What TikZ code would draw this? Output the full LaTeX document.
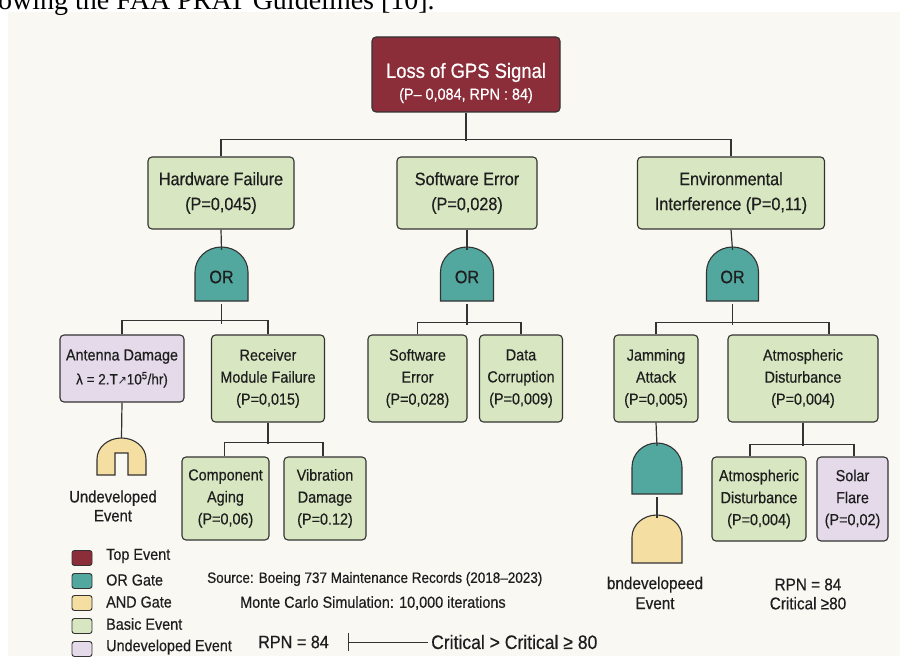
\documentclass[tikz,border=0pt]{standalone}
\usepackage{fontspec}
\setmainfont{Liberation Sans}[FakeStretch=0.9, FakeBold=0.5]
\newfontfamily\serifhead{Liberation Serif}
\newfontfamily\dvsans{DejaVu Sans}[FakeStretch=0.9]
\definecolor{bgC}{HTML}{FAF8F3}
\definecolor{lineC}{HTML}{333333}
\definecolor{txtC}{HTML}{1E1E1E}
\definecolor{topC}{HTML}{8B2E3A}
\definecolor{tealC}{HTML}{52A89F}
\definecolor{yelC}{HTML}{F4DEA2}
\definecolor{basicC}{HTML}{D8E7C1}
\definecolor{undevC}{HTML}{E4DAEA}
\newcommand{\fs}[2]{\fontsize{#1}{#2}\selectfont}
\newcommand{\dome}[8]{% name, cx, cy, w, h, ry, fill, text
  \pgfmathsetmacro\dmL{#2-#4/2}\pgfmathsetmacro\dmR{#2+#4/2}%
  \pgfmathsetmacro\dmB{#3+#5/2}\pgfmathsetmacro\dmS{#3-#5/2+#6}%
  \pgfmathsetmacro\dmX{#4/2}%
  \draw[gateline, fill=#7] (\dmL,\dmB) -- (\dmL,\dmS) arc[start angle=180, end angle=0, x radius=\dmX pt, y radius=#6pt] -- (\dmR,\dmB) -- cycle;
  \node[minimum width=#4pt, minimum height=#5pt, inner sep=0pt, text=txtC, font=\fs{18}{20}, yshift=-3pt] (#1) at (#2,#3) {#8};
}
\tikzset{
  box/.style={draw=lineC, line width=1.1pt, rounded corners=4pt, align=center, inner sep=0pt, text=txtC},
  basic/.style={box, fill=basicC},
  undev/.style={box, fill=undevC},
  conn/.style={draw=lineC, line width=1.2pt},
  gateline/.style={draw=lineC, line width=1.1pt},
  lbl/.style={align=center, inner sep=0pt, text=txtC},
  legsq/.style={draw=lineC, line width=0.9pt, rounded corners=2.5pt, minimum width=20pt, minimum height=15pt, inner sep=0pt},
  legtx/.style={anchor=west, inner sep=0pt, text=txtC, font=\fs{16}{18}},
}
\begin{document}
\begin{tikzpicture}[x=1pt, y=-1pt]
\useasboundingbox (0,0) rectangle (908,663);
\clip (0,0) rectangle (908,663);
\fill[white] (0,0) rectangle (908,663);
\fill[bgC] (8,12) rectangle (900,656);
\node[anchor=base west, inner sep=0pt, font=\serifhead\fontsize{28}{30}\selectfont] (head) at (-2,10) {owing the FAA PRAT Guidelines [10].};

% top event
\node[box, fill=topC, minimum width=188pt, minimum height=75pt] (top) at (466,74.5) {};
\node[lbl, text=white] (topt) at (466,83) {{\fs{20.5}{24}Loss of GPS Signal}\\[5pt]{\fs{16}{18}(P– 0,084, RPN : 84)}};

% level 2
\node[basic, minimum width=146pt, minimum height=72pt, font=\fs{18}{25}] (hw) at (221,193) {Hardware Failure\\(P=0,045)};
\node[basic, minimum width=140pt, minimum height=72pt, font=\fs{18}{25}] (sw) at (467,193) {Software Error\\(P=0,028)};
\node[basic, minimum width=187pt, minimum height=72pt, font=\fs{18}{25}] (env) at (731,193) {Environmental\\Interference (P=0,11)};

% gates
\dome{g1}{221.5}{274}{53}{54}{25}{tealC}{OR}
\dome{g2}{467}{274}{53}{54}{25}{tealC}{OR}
\dome{g3}{732.5}{274}{52}{54}{25}{tealC}{OR}

% level 3
\node[undev, minimum width=124pt, minimum height=67pt, font=\fs{16}{24}] (ant) at (122,368.5) {Antenna Damage\\{\fs{15}{17}λ = 2.T{\dvsans\fs{12}{14}↗}10\textsuperscript{5}/hr)}};
\node[basic, minimum width=113pt, minimum height=87pt, font=\fs{16}{22}] (rec) at (268,378.5) {Receiver\\Module Failure\\(P=0,015)};
\node[basic, minimum width=99pt, minimum height=87pt, font=\fs{16}{22}] (sw2) at (417.5,378.5) {Software\\Error\\(P=0,028)};
\node[basic, minimum width=83pt, minimum height=87pt, font=\fs{16}{22}] (dc) at (521,378.5) {Data\\Corruption\\(P=0,009)};
\node[basic, minimum width=84pt, minimum height=87pt, font=\fs{16}{22}] (jam) at (656,378.5) {Jamming\\Attack\\(P=0,005)};
\node[basic, minimum width=150pt, minimum height=87pt, font=\fs{16}{22}] (atm) at (803,378.5) {Atmospheric\\Disturbance\\(P=0,004)};

% level 4
\node[basic, minimum width=87pt, minimum height=83pt, font=\fs{16}{22}] (ca) at (225.5,498.5) {Component\\Aging\\(P=0,06)};
\node[basic, minimum width=82pt, minimum height=83pt, font=\fs{16}{22}] (vd) at (325,498.5) {Vibration\\Damage\\(P=0.12)};
\node[basic, minimum width=94pt, minimum height=84pt, font=\fs{16}{22}] (atm2) at (759,499) {Atmospheric\\Disturbance\\(P=0,004)};
\node[undev, minimum width=71pt, minimum height=84pt, font=\fs{16}{22}] (sf) at (852.5,499) {Solar\\Flare\\(P=0,02)};

% undeveloped event under antenna
\draw[gateline, fill=yelC] (97,475) -- (97,459) arc[start angle=180, end angle=0, x radius=24.5pt, y radius=21pt] -- (146,475) -- (128,475) -- (128,453) -- (115,453) -- (115,475) -- cycle;
\node[minimum width=49pt, minimum height=37pt, inner sep=0pt] (u1) at (121.5,456.5) {};
\node[lbl, font=\fs{16.5}{19}] (u1t) at (113,506) {Undeveloped\\Event};

% jamming gate chain
\dome{g4}{657}{468.5}{50}{51}{24}{tealC}{}
\dome{y1}{657}{539}{50}{48}{22}{yelC}{}
\node[lbl, font=\fs{17}{20}] (y1t) at (655,593) {bndevelopeed\\Event};
\node[lbl, font=\fs{17}{19}] (rpnr) at (808,594) {RPN = 84\\Critical ≥80};

% connectors
\draw[conn] (top.south) -- ++(0,28) coordinate (j0);
\draw[conn] (hw.north) -- ++(0,-17) -| (env.north);
\draw[conn] (hw.south) -- (g1.north);
\draw[conn] (sw.south) -- (g2.north);
\draw[conn] (env.south) -- (g3.north);
\draw[conn] (g1.south) -- ++(0,20) coordinate (j1);
\draw[conn] (ant.north) -- ++(0,-14) -| (rec.north);
\draw[conn] (g2.south) -- ++(0,21);
\draw[conn] (sw2.north) -- ++(0,-12) -| (dc.north);
\draw[conn] (g3.south) -- ++(0,21);
\draw[conn] (jam.north) -- ++(0,-12) -| ([xshift=26pt]atm.north);
\draw[conn] (rec.south) -- ++(0,21);
\draw[conn] ([xshift=-1pt]ca.north) -- ++(0,-14) -| ([xshift=-2pt]vd.north);
\draw[conn] (atm.south) -- ++(0,23);
\draw[conn] ([xshift=-9pt]atm2.north) -- ++(0,-12) -| ([xshift=1.5pt]sf.north);
\draw[conn] (ant.south) -- (u1.north);
\draw[conn] (jam.south) -- (g4.north);
\draw[conn] (g4.south) -- (y1.north);

% legend
\node[legsq, fill=topC] (l1) at (82,558) {};
\node[legsq, fill=tealC] (l2) at (82,581) {};
\node[legsq, fill=yelC] (l3) at (82,603) {};
\node[legsq, fill=basicC] (l4) at (82,626) {};
\node[legsq, fill=undevC] (l5) at (82,649) {};
\node[legtx] (l1t) at (106,556) {Top Event};
\node[legtx] (l2t) at (106,580) {OR Gate};
\node[legtx] (l3t) at (106,602) {AND Gate};
\node[legtx] (l4t) at (106,624) {Basic Event};
\node[legtx] (l5t) at (106,647) {Undeveloped Event};

% notes
\node[legtx, font=\fs{15}{17}] (src) at (207,579) {Source: Boeing 737 Maintenance Records (2018–2023)};
\node[legtx, font=\fs{16}{18}] (mc) at (240,603) {Monte Carlo Simulation: 10,000 iterations};
\node[legtx, font=\fs{18}{20}] (rpn) at (258,642) {RPN = 84};
\node[legtx, font=\fs{19.5}{21}] (crit) at (431,642) {Critical > Critical ≥ 80};
\coordinate (tk) at (348,642);
\draw[lineC, line width=1pt] (tk) -- ([xshift=-3pt]crit.west);
\draw[lineC, line width=1pt] ([yshift=9pt]tk) -- ([yshift=-9pt]tk);
\end{tikzpicture}
\end{document}
